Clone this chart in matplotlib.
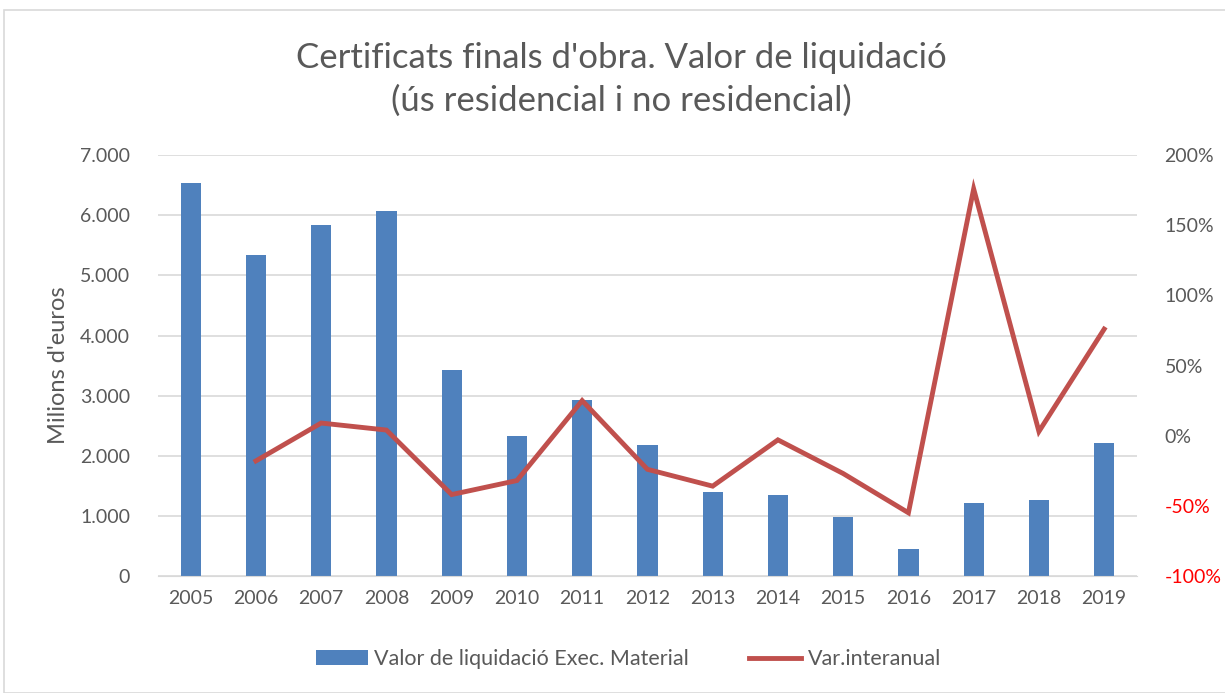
import numpy as np
import matplotlib.pyplot as plt
from matplotlib.patches import Rectangle
from matplotlib.ticker import FuncFormatter

plt.rcParams['font.family'] = ['Lato', 'DejaVu Sans']

# Data
years = ["2005", "2006", "2007", "2008", "2009", "2010", "2011", "2012",
         "2013", "2014", "2015", "2016", "2017", "2018", "2019"]
valor = [6535, 5340, 5840, 6070, 3430, 2330, 2930, 2180,
         1400, 1350, 980, 440, 1210, 1260, 2210]
var_interanual = [np.nan, -18, 9, 4, -42, -32, 25, -24,
                  -36, -3, -27, -55, 176, 3, 76]

COLOR_BAR = "#4F81BD"
COLOR_LINE = "#C0504D"
TEXT = "#595959"

fig = plt.figure(figsize=(12.25, 6.93), dpi=100)
ax = fig.add_axes([0.129, 0.169, 0.799, 0.607])
ax2 = ax.twinx()

x = np.arange(len(years))
ax.bar(x, valor, width=0.31, color=COLOR_BAR, zorder=2,
       label="Valor de liquidació Exec. Material")
ax2.plot(x, var_interanual, color=COLOR_LINE, linewidth=3.5,
         solid_joinstyle="miter", label="Var.interanual")

ax.set_ylim(0, 7000)
ax.set_yticks(np.arange(0, 7001, 1000))
ax.yaxis.set_major_formatter(FuncFormatter(lambda v, p: f"{int(v):,}".replace(",", ".")))
ax.set_xlim(-0.5, len(years) - 0.5)
ax.set_xticks(x)
ax.set_xticklabels(years)
ax.grid(axis="y", color="#D9D9D9", linewidth=1.2, zorder=0)
ax.set_axisbelow(True)

ax2.set_ylim(-100, 200)
ax2.set_yticks(np.arange(-100, 201, 50))
ax2.set_yticklabels([f"{v}%" for v in range(-100, 201, 50)])

for a in (ax, ax2):
    for s in a.spines.values():
        s.set_visible(False)
    a.tick_params(length=0, labelsize=14, colors=TEXT)
ax.spines["bottom"].set_visible(True)
ax.spines["bottom"].set_color("#D9D9D9")
ax.tick_params(axis="x", pad=10)
ax.tick_params(axis="y", pad=20)
ax2.tick_params(axis="y", pad=20)
for lbl, v in zip(ax2.get_yticklabels(), range(-100, 201, 50)):
    lbl.set_color("red" if v < 0 else TEXT)

ax.set_ylabel("Milions d'euros", fontsize=17, color=TEXT, labelpad=8)

fig.text(0.507, 0.886, "Certificats finals d'obra. Valor de liquidació\n(ús residencial i no residencial)",
         ha="center", va="center", fontsize=25, color=TEXT, linespacing=1.4)

h1, l1 = ax.get_legend_handles_labels()
h2, l2 = ax2.get_legend_handles_labels()
fig.legend(h1 + h2, l1 + l2, loc="center", bbox_to_anchor=(0.513, 0.049), ncol=2,
           frameon=False, fontsize=15.5, labelcolor=TEXT, handlelength=2.4,
           handletextpad=0.3, columnspacing=2.8)

fig.patches.append(Rectangle((0.003, 0.0), 1.2, 0.986, transform=fig.transFigure,
                             fill=False, edgecolor="#D9D9D9", linewidth=1.2))

plt.savefig("out.png", dpi=100)
